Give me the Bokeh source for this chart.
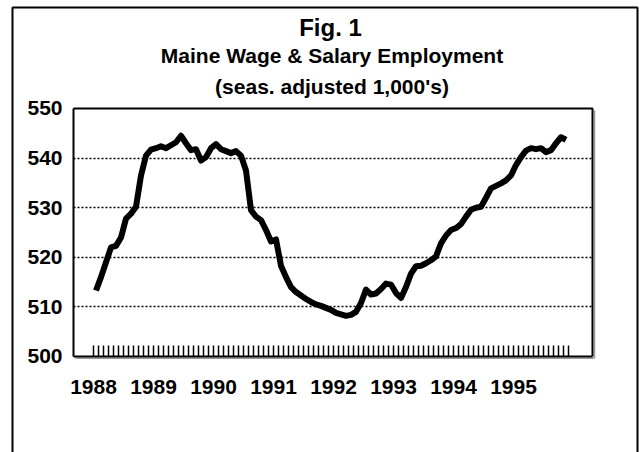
from bokeh.plotting import figure
from bokeh.models import Range1d, FixedTicker, Label
from bokeh.embed import file_html
from bokeh.resources import INLINE

# ---- data (seasonally adjusted wage & salary employment, thousands) ----
years = ["1988", "1989", "1990", "1991", "1992", "1993", "1994", "1995"]
employment = [
    513.3, 516.0, 519.0, 522.0, 522.3, 524.0, 527.8, 528.8, 530.2, 536.5, 540.5, 541.7,
    542.0, 542.4, 542.0, 542.6, 543.2, 544.5, 543.0, 541.6, 541.8, 539.5, 540.2, 542.0,
    542.8, 541.8, 541.4, 541.0, 541.4, 540.5, 537.5, 529.5, 528.2, 527.5, 525.5, 523.2,
    523.6, 518.3, 516.0, 514.0, 513.0, 512.3, 511.6, 511.0, 510.5, 510.2, 509.8, 509.4,
    508.8, 508.5, 508.2, 508.4, 509.0, 510.8, 513.5, 512.5, 512.7, 513.6, 514.7, 514.5,
    512.8, 511.8, 514.0, 516.7, 518.2, 518.3, 518.8, 519.4, 520.2, 522.8, 524.4, 525.5,
    525.9, 526.7, 528.2, 529.6, 530.0, 530.2, 532.0, 533.9, 534.4, 534.9, 535.5, 536.5,
    538.6, 540.2, 541.5, 542.0, 541.8, 542.0, 541.2, 541.6, 543.0, 544.2, 543.7,
]
y_ticks = [500, 510, 520, 530, 540, 550]
grid_levels = [510, 520, 530, 540]

n_months = len(years) * 12
month_x = [i + 0.5 for i in range(len(employment))]

FONT = "Liberation Sans"

# plot window in data units (x: months since Jan 1988, y: thousands)
X0, X1 = -4.0, 99.8
Y0, Y1 = 500, 550

p = figure(width=641, height=452, output_backend="svg", toolbar_location=None,
           x_range=Range1d(-18.6, 109.6), y_range=Range1d(480.645, 571.774),
           min_border=0)
p.min_border_left = 0
p.min_border_right = 0
p.min_border_top = 0
p.min_border_bottom = 0
p.background_fill_color = "white"
p.border_fill_color = "white"
p.outline_line_color = None

# y axis
p.yaxis.fixed_location = X0
p.yaxis.bounds = (Y0, Y1)
p.yaxis.ticker = FixedTicker(ticks=y_ticks)
p.yaxis.major_tick_out = 0
p.yaxis.major_tick_in = 0
p.yaxis.minor_tick_out = 0
p.yaxis.minor_tick_in = 0
p.yaxis.axis_line_color = "black"
p.yaxis.axis_line_width = 2
p.yaxis.major_label_text_font = FONT
p.yaxis.major_label_text_font_style = "bold"
p.yaxis.major_label_text_font_size = "21px"
p.yaxis.major_label_text_color = "black"
p.yaxis.major_label_standoff = 11

# x axis: monthly tick marks, year labels at January
p.xaxis.fixed_location = Y0
p.xaxis.bounds = (X0, X1)
p.xaxis.ticker = FixedTicker(ticks=list(range(n_months)))
overrides = {}
for k in range(n_months):
    overrides[k] = years[k // 12] if k % 12 == 0 else ""
p.xaxis.major_label_overrides = overrides
p.xaxis.major_tick_in = 11
p.xaxis.major_tick_out = 0
p.xaxis.minor_tick_in = 0
p.xaxis.minor_tick_out = 0
p.xaxis.major_tick_line_color = "black"
p.xaxis.major_tick_line_width = 1.5
p.xaxis.axis_line_color = "black"
p.xaxis.axis_line_width = 2
p.xaxis.major_label_text_font = FONT
p.xaxis.major_label_text_font_style = "bold"
p.xaxis.major_label_text_font_size = "21px"
p.xaxis.major_label_text_color = "black"
p.xaxis.major_label_standoff = 24

# grids: dotted horizontal lines limited to the plot window
p.xgrid.visible = False
grid = p.ygrid[0]
if "cross_bounds" in grid.properties():
    grid.ticker = FixedTicker(ticks=grid_levels)
    grid.cross_bounds = (X0, X1)
    grid.grid_line_color = "black"
    grid.grid_line_width = 1.5
    grid.grid_line_dash = "2 2"
else:
    grid.visible = False
    p.segment(x0=[X0] * len(grid_levels), y0=grid_levels, x1=[X1] * len(grid_levels), y1=grid_levels,
              line_color="black", line_width=1.5, line_dash="2 2")

# plot-area frame (top and right; left/bottom are the axes) with light shadow
p.line([X1 + 0.4, X1 + 0.4], [Y0 - 0.35, Y1 - 0.35], line_color="#9a9a9a", line_width=1.5)
p.line([X0 + 0.4, X1 + 0.4], [Y0 - 0.35, Y0 - 0.35], line_color="#9a9a9a", line_width=1.5)
p.line([X0, X1, X1], [Y1, Y1, Y0], line_color="black", line_width=2)

# data line
p.line(month_x, employment, line_color="black", line_width=6, line_join="round")

# titles
p.add_layout(Label(x=47.4, y=566.4, text="Fig. 1", text_align="center", text_baseline="alphabetic",
                   text_font=FONT, text_font_style="bold", text_font_size="24px", text_color="black"))
p.add_layout(Label(x=47.7, y=560.6, text="Maine Wage & Salary Employment", text_align="center",
                   text_baseline="alphabetic", text_font=FONT, text_font_style="bold",
                   text_font_size="21px", text_color="black"))
p.add_layout(Label(x=47.7, y=554.4, text="(seas. adjusted 1,000's)", text_align="center",
                   text_baseline="alphabetic", text_font=FONT, text_font_style="bold",
                   text_font_size="21px", text_color="black"))

# outer border of the exhibit
p.line([-16.2, -16.2, 108.8, 108.8], [470.0, 570.36, 570.36, 470.0], line_color="black", line_width=2)

open("out.html", "w").write(file_html(p, INLINE))
